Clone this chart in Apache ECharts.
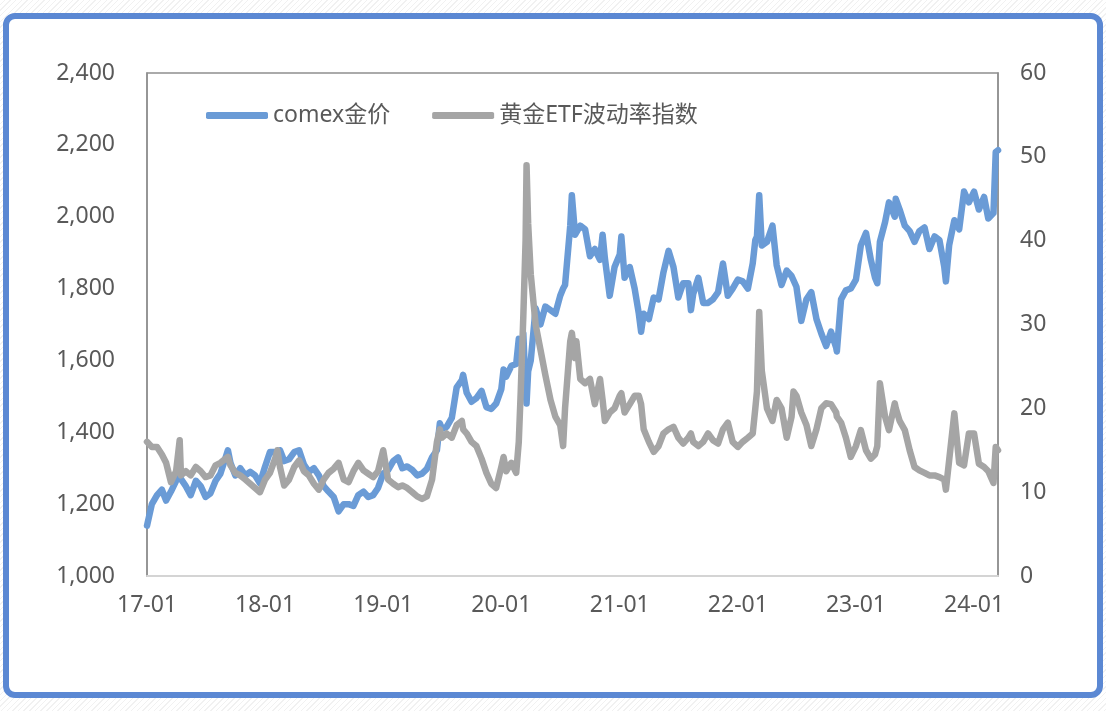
<!DOCTYPE html>
<html>
<head>
<meta charset="utf-8">
<script src="https://cdn.jsdelivr.net/npm/echarts@6/dist/echarts.min.js"></script>
<style>
    html, body{
        margin: 0;
        padding: 0;
        width: 1106px;
        height: 711px;
        background: repeating-linear-gradient(135deg, #ffffff 0 3px, #f1f1f1 3px 4px);
        overflow: hidden;
    }
    #frame{
        position: absolute;
        left: 3px;
        top: 13px;
        width: 1088px;
        height: 673px;
        border: 6px solid #5b88d3;
        border-radius: 12px;
        background: #fff;
    }
    #main{
        position: absolute;
        left: 0;
        top: 0;
        width: 1106px;
        height: 711px;
    }
</style>
</head>
<body>
<div id="frame"></div>
<div id="main"></div>
<script type="text/javascript">
    // 日期（半月取点，峰值处加点）
    var dates = [
        '2017-01-01','2017-01-16','2017-02-01','2017-02-16','2017-03-01','2017-03-16','2017-04-01','2017-04-12','2017-04-16',
        '2017-05-01','2017-05-16','2017-06-01','2017-06-16','2017-07-01','2017-07-16','2017-08-01','2017-08-16',
        '2017-09-01','2017-09-08','2017-09-16','2017-10-01','2017-10-16','2017-11-01','2017-11-16','2017-12-01','2017-12-16',
        '2018-01-01','2018-01-16','2018-02-01','2018-02-08','2018-02-16','2018-03-01','2018-03-16','2018-04-01','2018-04-16',
        '2018-05-01','2018-05-16','2018-06-01','2018-06-16','2018-07-01','2018-07-16','2018-08-01','2018-08-16',
        '2018-09-01','2018-09-16','2018-10-01','2018-10-16','2018-11-01','2018-11-16','2018-12-01','2018-12-16',
        '2019-01-01','2019-01-16','2019-02-01','2019-02-16','2019-03-01','2019-03-16','2019-04-01','2019-04-16',
        '2019-05-01','2019-05-16','2019-06-01','2019-06-16','2019-06-25','2019-07-01','2019-07-16','2019-08-01','2019-08-16',
        '2019-09-01','2019-09-05','2019-09-16','2019-10-01','2019-10-16','2019-11-01','2019-11-16','2019-12-01','2019-12-16',
        '2020-01-01','2020-01-08','2020-01-16','2020-02-01','2020-02-16','2020-02-24','2020-03-01','2020-03-09','2020-03-16',
        '2020-03-19','2020-03-24','2020-04-01','2020-04-16','2020-05-01','2020-05-16','2020-06-01','2020-06-16',
        '2020-07-01','2020-07-10','2020-07-16','2020-08-01','2020-08-06','2020-08-16','2020-08-20','2020-09-01','2020-09-16',
        '2020-10-01','2020-10-16','2020-11-01','2020-11-09','2020-11-16','2020-12-01','2020-12-16',
        '2021-01-01','2021-01-06','2021-01-16','2021-02-01','2021-02-16','2021-03-01','2021-03-08','2021-03-16',
        '2021-04-01','2021-04-16','2021-05-01','2021-05-16','2021-06-01','2021-06-16','2021-07-01','2021-07-16',
        '2021-08-01','2021-08-09','2021-08-16','2021-09-01','2021-09-16','2021-10-01','2021-10-16','2021-11-01','2021-11-16',
        '2021-12-01','2021-12-16',
        '2022-01-01','2022-01-16','2022-02-01','2022-02-16','2022-02-24','2022-03-01','2022-03-08','2022-03-16',
        '2022-04-01','2022-04-18','2022-05-01','2022-05-16','2022-06-01','2022-06-16','2022-06-22','2022-07-01','2022-07-16',
        '2022-08-01','2022-08-16','2022-09-01','2022-09-16','2022-10-01','2022-10-16','2022-11-01','2022-11-03','2022-11-16',
        '2022-12-01','2022-12-16',
        '2023-01-01','2023-01-16','2023-02-01','2023-02-16','2023-03-01','2023-03-08','2023-03-16','2023-04-01','2023-04-13',
        '2023-05-01','2023-05-04','2023-05-16','2023-06-01','2023-06-16','2023-07-01','2023-07-16','2023-08-01','2023-08-16',
        '2023-09-01','2023-09-16','2023-10-01','2023-10-06','2023-10-16','2023-11-01','2023-11-16','2023-12-01','2023-12-04',
        '2023-12-16',
        '2024-01-01','2024-01-16','2024-02-01','2024-02-14','2024-03-01','2024-03-08','2024-03-15'
    ];
    // comex金价
    var goldPrice = [
        1140,1200,1225,1240,1210,1235,1265,1275,1280,
        1250,1225,1265,1250,1220,1230,1265,1285,
        1330,1350,1315,1280,1300,1280,1290,1280,1258,
        1305,1345,1345,1320,1350,1320,1325,1345,1350,
        1310,1290,1300,1280,1250,1235,1220,1180,
        1200,1200,1195,1225,1235,1220,1225,1245,
        1285,1295,1320,1330,1300,1305,1295,1280,
        1285,1298,1330,1350,1425,1410,1415,1440,1525,
        1545,1560,1510,1485,1495,1515,1470,1465,1480,
        1520,1575,1555,1585,1590,1660,1600,1675,1520,
        1480,1570,1600,1745,1700,1750,1740,1730,
        1780,1800,1810,1975,2060,1950,1950,1975,1965,
        1890,1910,1880,1950,1885,1780,1860,
        1895,1945,1830,1860,1800,1730,1680,1730,
        1715,1775,1770,1845,1905,1860,1775,1815,
        1815,1740,1785,1830,1760,1760,1770,1790,1870,
        1780,1800,
        1825,1820,1800,1870,1935,1945,2060,1920,
        1930,1975,1865,1810,1850,1835,1830,1805,1710,
        1770,1790,1715,1675,1640,1680,1635,1625,1770,
        1795,1800,
        1825,1920,1955,1880,1830,1815,1930,1985,2040,
        2000,2050,2020,1975,1960,1930,1960,1970,1910,
        1945,1935,1860,1820,1920,1990,1965,2070,2075,
        2040,
        2070,2020,2055,1995,2010,2180,2185
    ];
    // 黄金ETF波动率指数
    var etfVol = [
        16.0,15.4,15.4,14.5,13.5,11.2,12.5,16.2,12.0,
        12.5,12.0,13.0,12.5,11.8,12.0,13.2,13.5,
        14.0,14.2,13.2,12.3,12.0,11.5,11.0,10.5,10.0,
        11.5,12.3,14.0,15.0,13.0,10.8,11.5,13.0,13.8,
        12.5,12.0,11.0,10.3,11.5,12.3,12.8,13.5,
        11.5,11.2,12.5,13.5,12.6,12.2,11.8,12.5,
        15.0,11.5,11.0,10.6,10.8,10.5,10.0,9.5,
        9.2,9.5,11.5,16.0,17.5,16.5,17.0,16.5,18.0,
        18.5,17.5,17.0,16.0,15.5,14.0,12.3,11.0,10.5,
        13.0,14.2,12.5,13.5,12.3,16.0,22.0,31.0,40.0,
        49.0,42.0,36.0,30.0,27.0,24.0,21.0,19.0,
        18.0,15.5,20.0,28.0,29.0,26.0,28.0,23.5,23.0,
        23.5,20.5,23.5,21.0,18.5,19.5,20.0,
        21.5,21.8,19.5,20.5,21.5,21.5,20.5,17.5,
        16.0,14.8,15.5,17.0,17.5,17.8,16.5,15.8,
        16.5,17.0,16.0,15.5,16.0,17.0,16.2,15.8,17.5,
        18.3,16.0,
        15.4,16.0,16.5,17.0,20.0,22.0,31.5,24.5,
        20.0,18.5,21.0,20.0,16.5,19.0,22.0,21.5,19.5,
        18.0,15.5,17.5,20.0,20.6,20.5,19.5,19.0,18.3,
        16.5,14.2,
        15.5,17.4,15.0,14.0,14.5,15.5,23.0,19.0,17.4,
        20.6,20.0,18.5,17.4,15.0,13.0,12.6,12.3,12.0,
        12.0,11.8,11.5,10.3,13.8,19.4,13.5,13.2,13.0,
        17.0,
        17.0,13.4,13.0,12.5,11.1,15.4,15.0
    ];
    // 左右轴刻度
    var leftTicks = [1000, 1200, 1400, 1600, 1800, 2000, 2200, 2400];
    var rightTicks = [0, 10, 20, 30, 40, 50, 60];

    var goldData = dates.map(function (d, i) { return [d, goldPrice[i]]; });
    var volData = dates.map(function (d, i) { return [d, etfVol[i]]; });

    var labelFont = {
        color: '#595959',
        fontSize: 23,
        fontFamily: 'Noto Sans, Noto Sans CJK SC'
    };

    var myChart = echarts.init(document.getElementById('main'));
    var option = {
        backgroundColor: 'transparent',
        animation: false,
        grid: {
            left: 147,
            right: 108,
            top: 73,
            bottom: 135,
            show: true,
            borderColor: '#8f8f8f',
            borderWidth: 1.5
        },
        legend: {
            left: 201,
            top: 99,
            icon: 'roundRect',
            itemWidth: 62,
            itemHeight: 7,
            itemGap: 42,
            textStyle: {
                color: '#595959',
                fontSize: 23,
                fontFamily: 'Noto Sans, Noto Sans CJK SC'
            },
            data: ['comex金价', '黄金ETF波动率指数']
        },
        xAxis: {
            type: 'time',
            min: dates[0],
            max: dates[dates.length - 1],
            splitNumber: 7,
            axisLine: {show: true, lineStyle: {color: '#d4d4d4', width: 2}},
            axisTick: {show: false},
            splitLine: {show: false},
            axisLabel: Object.assign({
                margin: 18,
                hideOverlap: false,
                formatter: function (v) {
                    var d = new Date(v);
                    var m = d.getMonth() + 1;
                    return String(d.getFullYear()).slice(2) + '-' + (m < 10 ? '0' + m : m);
                }
            }, labelFont)
        },
        yAxis: [
            {
                type: 'value',
                min: leftTicks[0],
                max: leftTicks[leftTicks.length - 1],
                interval: 200,
                axisLine: {show: true, lineStyle: {color: '#8f8f8f', width: 1.5}},
                axisTick: {show: false},
                splitLine: {show: false},
                axisLabel: Object.assign({
                    margin: 32,
                    formatter: function (v) { return v.toLocaleString('en-US'); }
                }, labelFont)
            },
            {
                type: 'value',
                min: rightTicks[0],
                max: rightTicks[rightTicks.length - 1],
                interval: 10,
                position: 'right',
                axisLine: {show: true, lineStyle: {color: '#8f8f8f', width: 1.5}},
                axisTick: {show: false},
                splitLine: {show: false},
                axisLabel: Object.assign({margin: 22}, labelFont)
            }
        ],
        series: [
            {
                name: 'comex金价',
                type: 'line',
                yAxisIndex: 0,
                data: goldData,
                showSymbol: false,
                color: '#6a9bd6',
                lineStyle: {width: 6.5, color: '#6a9bd6', cap: 'round', join: 'round'},
                z: 2
            },
            {
                name: '黄金ETF波动率指数',
                type: 'line',
                yAxisIndex: 1,
                data: volData,
                showSymbol: false,
                color: '#a5a5a5',
                lineStyle: {width: 6.5, color: '#a5a5a5', cap: 'round', join: 'round'},
                z: 3
            }
        ]
    };
    myChart.setOption(option);
</script>
</body>
</html>
